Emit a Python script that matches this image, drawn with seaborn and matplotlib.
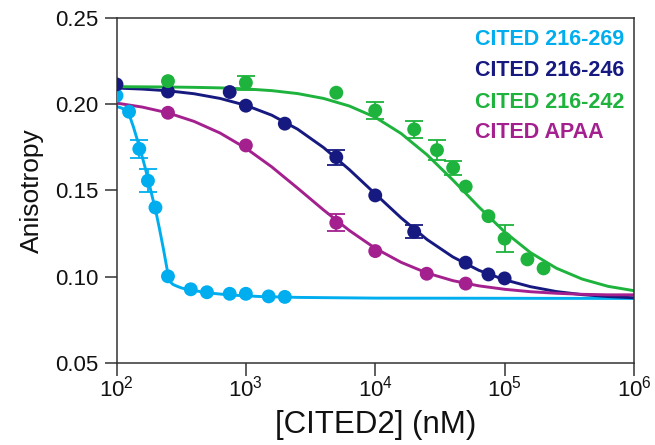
import numpy as np
import pandas as pd
import matplotlib
matplotlib.use("Agg")
import matplotlib.pyplot as plt
from matplotlib.ticker import FixedLocator, NullLocator, FormatStrFormatter
import seaborn as sns

# ---------------- data ----------------
series_names = ["CITED 216-269", "CITED 216-246", "CITED 216-242", "CITED APAA"]
series_colors = ["#00AEEF", "#16197F", "#1DB33C", "#A3208E"]

# measured points (concentration nM, anisotropy, error)
c269_conc = [100, 125, 150, 175, 200, 250, 375, 500, 750, 1000, 1500, 2000]
c269_aniso = [0.2048, 0.1955, 0.1740, 0.1556, 0.1401, 0.1003, 0.0928, 0.0911, 0.0902, 0.0902, 0.0887, 0.0884]
c269_err = [0, 0, 0.0050, 0.0065, 0, 0, 0, 0, 0, 0, 0, 0]

c246_conc = [100, 250, 750, 1000, 2000, 5000, 10000, 20000, 50000, 75000, 100000]
c246_aniso = [0.2113, 0.2072, 0.2069, 0.1990, 0.1886, 0.1692, 0.1471, 0.1261, 0.1082, 0.1014, 0.0991]
c246_err = [0, 0, 0, 0, 0, 0.0043, 0, 0.0038, 0, 0, 0]

c242_conc = [250, 1000, 5000, 10000, 20000, 30000, 40000, 50000, 75000, 100000, 150000, 200000]
c242_aniso = [0.2132, 0.2123, 0.2065, 0.1962, 0.1853, 0.1733, 0.1631, 0.1522, 0.1351, 0.1221, 0.1101, 0.1049]
c242_err = [0, 0.0040, 0, 0.0050, 0.0050, 0.0060, 0.0040, 0, 0, 0.0078, 0, 0]

apaa_conc = [250, 1000, 5000, 10000, 25000, 50000]
apaa_aniso = [0.1949, 0.1760, 0.1313, 0.1149, 0.1018, 0.0961]
apaa_err = [0, 0, 0.0048, 0, 0, 0]

# fitted curves
fit269_conc = [100, 108, 114, 119, 124, 135, 150, 165, 176, 188, 200, 215, 230, 245, 252, 258,
               265, 275, 293, 320, 370, 500, 750, 1300, 2600, 10000, 1000000]
fit269_aniso = [0.1985, 0.1978, 0.1970, 0.1960, 0.1948, 0.1868, 0.1755, 0.1643, 0.1560, 0.1470,
                0.1390, 0.1277, 0.1165, 0.1052, 0.1004, 0.0980, 0.0965, 0.0955, 0.0946, 0.0935,
                0.0925, 0.0908, 0.0895, 0.0886, 0.0881, 0.0877, 0.0875]

fit_conc = [100, 158, 251, 398, 631, 1000, 1585, 2512, 3981, 6310, 10000, 15849, 25119,
            39811, 63096, 100000, 158489, 251189, 398107, 630957, 1000000]
fit246_aniso = [0.2092, 0.2086, 0.2076, 0.2059, 0.2032, 0.1992, 0.1935, 0.1854, 0.1748, 0.1620,
                0.1480, 0.1341, 0.1216, 0.1115, 0.1038, 0.0983, 0.0943, 0.0915, 0.0897, 0.0886, 0.0879]
fit242_aniso = [0.2100, 0.2099, 0.2098, 0.2096, 0.2093, 0.2087, 0.2077, 0.2060, 0.2032, 0.1988,
                0.1923, 0.1829, 0.1706, 0.1560, 0.1405, 0.1260, 0.1140, 0.1050, 0.0987, 0.0945, 0.0920]
fitapaa_aniso = [0.2005, 0.1982, 0.1948, 0.1899, 0.1832, 0.1744, 0.1636, 0.1513, 0.1387, 0.1268,
                 0.1165, 0.1084, 0.1022, 0.0978, 0.0948, 0.0928, 0.0914, 0.0905, 0.0899, 0.0896, 0.0896]

y_ticks = [0.05, 0.10, 0.15, 0.20, 0.25]
x_ticks = [1e2, 1e3, 1e4, 1e5, 1e6]

# ---------------- tables ----------------
points = pd.concat([
    pd.DataFrame({"conc": c269_conc, "aniso": c269_aniso, "err": c269_err, "construct": series_names[0]}),
    pd.DataFrame({"conc": c246_conc, "aniso": c246_aniso, "err": c246_err, "construct": series_names[1]}),
    pd.DataFrame({"conc": c242_conc, "aniso": c242_aniso, "err": c242_err, "construct": series_names[2]}),
    pd.DataFrame({"conc": apaa_conc, "aniso": apaa_aniso, "err": apaa_err, "construct": series_names[3]}),
], ignore_index=True)

curves = pd.concat([
    pd.DataFrame({"conc": fit269_conc, "aniso": fit269_aniso, "construct": series_names[0]}),
    pd.DataFrame({"conc": fit_conc, "aniso": fit246_aniso, "construct": series_names[1]}),
    pd.DataFrame({"conc": fit_conc, "aniso": fit242_aniso, "construct": series_names[2]}),
    pd.DataFrame({"conc": fit_conc, "aniso": fitapaa_aniso, "construct": series_names[3]}),
], ignore_index=True)

palette = dict(zip(series_names, series_colors))

# ---------------- style ----------------
sns.set_theme(style="ticks")
plt.rcParams["font.family"] = ["Liberation Sans", "DejaVu Sans"]
plt.rcParams["mathtext.fontset"] = "custom"
plt.rcParams["mathtext.rm"] = "Liberation Sans"
plt.rcParams["mathtext.it"] = "Liberation Sans:italic"
plt.rcParams["mathtext.bf"] = "Liberation Sans:bold"
plt.rcParams["mathtext.default"] = "regular"

fig = plt.figure(figsize=(6.55, 4.45), dpi=100)
ax = fig.add_axes([116.5 / 655, 1 - 363.3 / 445, (634 - 116.5) / 655, (363.3 - 17.5) / 445])
ax.set_xscale("log")

# fitted curves
sns.lineplot(data=curves, x="conc", y="aniso", hue="construct", palette=palette,
             hue_order=series_names, estimator=None, sort=False, linewidth=2.1,
             legend=False, ax=ax, zorder=2)

# error bars
for name in series_names:
    sub = points[(points["construct"] == name) & (points["err"] > 0)]
    if len(sub):
        ax.errorbar(sub["conc"], sub["aniso"], yerr=sub["err"], fmt="none",
                    ecolor=palette[name], elinewidth=1.3, capsize=6.5, capthick=1.3, zorder=3)

# points
sns.scatterplot(data=points, x="conc", y="aniso", hue="construct", palette=palette,
                hue_order=series_names, s=100, edgecolor="none", legend=False, ax=ax, zorder=4)

# axes
ax.set_xlim(1e2, 1e6)
ax.set_ylim(0.05, 0.25)
ax.xaxis.set_major_locator(FixedLocator(x_ticks))
ax.xaxis.set_minor_locator(NullLocator())
ax.yaxis.set_major_locator(FixedLocator(y_ticks))
ax.yaxis.set_major_formatter(FormatStrFormatter("%.2f"))
for s in ax.spines.values():
    s.set_color("#333333")
    s.set_linewidth(1.1)
ax.tick_params(axis="both", which="major", direction="out", length=9, width=1.1,
               color="#333333", labelsize=16, labelcolor="#111111", pad=4)
ax.tick_params(axis="x", pad=0)
ax.set_xlabel("[CITED2] (nM)", fontsize=22.5, color="#111111", labelpad=6)
ax.set_ylabel("Anisotropy", fontsize=19, color="#111111", labelpad=8)

# colored text legend
legend_y = [0.9378, 0.8453, 0.7556, 0.6660]
for name, yy in zip(series_names, legend_y):
    ax.text(0.6928, yy, name, transform=ax.transAxes, ha="left", va="center",
            fontsize=15.5, fontweight="bold", color=palette[name])

fig.savefig("out.png", dpi=100)
